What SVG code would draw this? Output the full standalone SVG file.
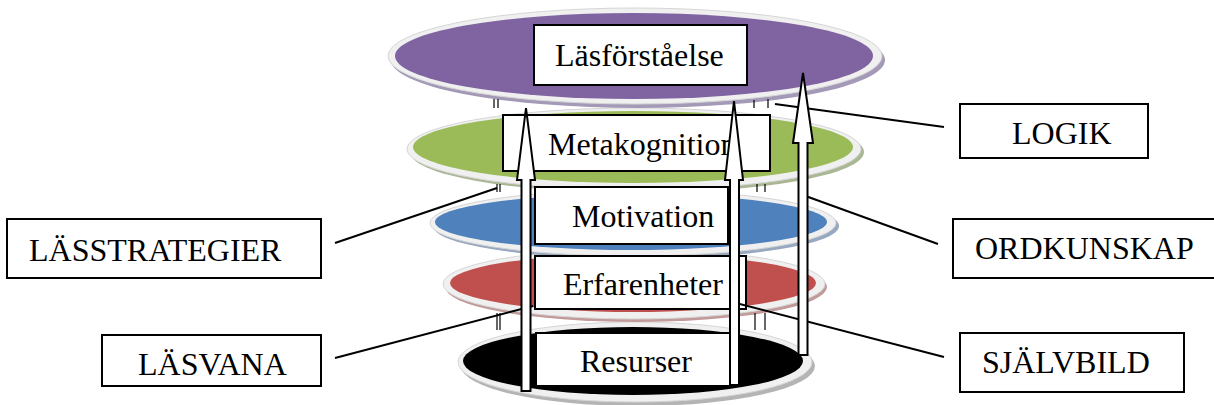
<svg xmlns="http://www.w3.org/2000/svg" width="1214" height="405" viewBox="0 0 1214 405">
<style>
text{font-family:"Liberation Serif","Times New Roman",serif;font-size:32px;fill:#000}
.box{fill:#fff;stroke:#000;stroke-width:2}
.rim{fill:#f0f0f0;stroke:#d6d6d6;stroke-width:1}
.arrow{fill:#fff;stroke:#000;stroke-width:2;stroke-linejoin:miter}
.con{stroke:#000;stroke-width:2;fill:none}
.tick{stroke:#000;stroke-width:1.2}
</style>
<rect width="1214" height="405" fill="#fff"/>
<g id="disc-resurser">
<ellipse cx="638" cy="366" rx="177" ry="40" fill="#b4b4b4"/>
<ellipse class="rim" cx="635" cy="362" rx="177" ry="40"/>
<ellipse cx="633" cy="361" rx="170" ry="34" fill="#000"/>
</g>
<g id="disc-erfarenheter">
<ellipse cx="636" cy="287" rx="191" ry="35" fill="#c39a9a"/>
<ellipse class="rim" cx="634" cy="284" rx="191" ry="35"/>
<ellipse cx="633" cy="283" rx="183" ry="29" fill="#c0504d"/>
</g>
<g id="disc-motivation">
<ellipse cx="636" cy="226" rx="203" ry="33" fill="#98a8c0"/>
<ellipse class="rim" cx="633" cy="223" rx="203" ry="33"/>
<ellipse cx="631" cy="222" rx="196" ry="28" fill="#4f81bd"/>
</g>
<g id="disc-metakognition">
<ellipse cx="637" cy="152" rx="227" ry="41" fill="#aab795"/>
<ellipse class="rim" cx="634" cy="149" rx="227" ry="41"/>
<ellipse cx="633" cy="147" rx="220" ry="36" fill="#9bbb59"/>
</g>
<g id="disc-lasforstaelse">
<ellipse cx="638" cy="60" rx="247" ry="48" fill="#a49ab8"/>
<ellipse class="rim" cx="635" cy="56" rx="247" ry="48"/>
<ellipse cx="634" cy="56" rx="239" ry="43" fill="#8064a2"/>
</g>
<g id="ticks">
<line class="tick" x1="494" y1="99" x2="494" y2="108"/><line class="tick" x1="498" y1="99" x2="498" y2="108"/>
<line class="tick" x1="754" y1="100" x2="754" y2="108"/><line class="tick" x1="768" y1="99" x2="768" y2="108"/>
<line class="tick" x1="497" y1="184" x2="497" y2="192"/><line class="tick" x1="500" y1="184" x2="500" y2="192"/>
<line class="tick" x1="757" y1="184" x2="757" y2="192"/><line class="tick" x1="765" y1="184" x2="765" y2="192"/>
<line class="tick" x1="497" y1="313" x2="497" y2="330"/><line class="tick" x1="500" y1="313" x2="500" y2="330"/>
<line class="tick" x1="755" y1="313" x2="755" y2="330"/><line class="tick" x1="765" y1="313" x2="765" y2="330"/>
</g>
<g id="box-lasforstaelse"><rect class="box" x="534" y="25" width="213" height="60"/><text x="555" y="66">Läsförståelse</text></g>
<g id="box-metakognition"><rect class="box" x="503" y="115" width="267" height="56"/><text x="548" y="155">Metakognition</text></g>
<g id="box-motivation"><rect class="box" x="535" y="187" width="193" height="57"/><text x="572" y="227">Motivation</text></g>
<g id="box-erfarenheter"><rect class="box" x="535" y="256" width="211" height="53"/><text x="563" y="295">Erfarenheter</text></g>
<g id="box-resurser"><rect class="box" x="536" y="333" width="194" height="53"/><text x="580" y="372">Resurser</text></g>
<g id="connectors">
<line class="con" x1="944" y1="127" x2="775" y2="104"/>
<line class="con" x1="938" y1="244" x2="800" y2="194"/>
<line class="con" x1="944" y1="357" x2="732" y2="302"/>
<line class="con" x1="335" y1="243" x2="497" y2="188"/>
<line class="con" x1="335" y1="358" x2="533" y2="306"/>
<path class="arrow" d="M526,108 L535,180 L530.5,180 L530.5,391 L521.5,391 L521.5,180 L517,180 Z"/>
<path class="arrow" d="M734,101 L743,180 L739,180 L739,385 L730,385 L730,180 L725,180 Z"/>
<path class="arrow" d="M803,73 L813,143 L807.5,143 L807.5,355 L798.5,355 L798.5,143 L793,143 Z"/>
</g>
<g id="label-lasstrategier"><rect class="box" x="7" y="219" width="314" height="59"/><text x="29" y="261">LÄSSTRATEGIER</text></g>
<g id="label-lasvana"><rect class="box" x="102" y="335" width="219" height="51"/><text x="138" y="375">LÄSVANA</text></g>
<g id="label-logik"><rect class="box" x="960" y="104" width="188" height="54"/><text x="1012" y="144">LOGIK</text></g>
<g id="label-ordkunskap"><rect class="box" x="953" y="219" width="270" height="59"/><text x="975" y="259">ORDKUNSKAP</text></g>
<g id="label-sjalvbild"><rect class="box" x="960" y="333" width="224" height="59"/><text x="982" y="373">SJÄLVBILD</text></g>
</svg>
